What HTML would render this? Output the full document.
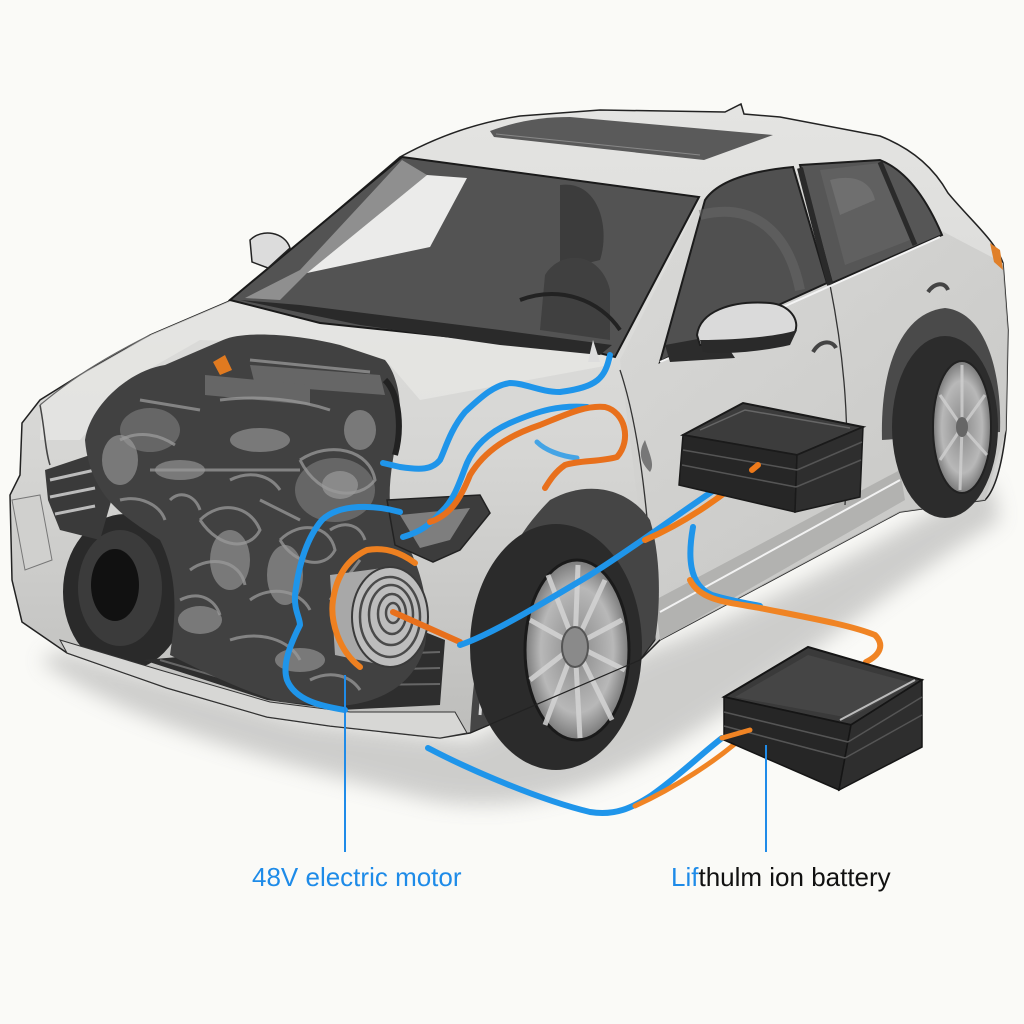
<!DOCTYPE html>
<html><head><meta charset="utf-8"><style>
html,body{margin:0;padding:0;background:#fafaf7;}
svg{display:block;}
text{font-family:"Liberation Sans",Arial,sans-serif;}
</style></head><body>
<svg width="1024" height="1024" viewBox="0 0 1024 1024" xmlns="http://www.w3.org/2000/svg">
<defs>
<linearGradient id="bodyG" x1="0" y1="0" x2="0" y2="1">
<stop offset="0" stop-color="#e4e4e2"/><stop offset="0.55" stop-color="#d6d6d4"/><stop offset="1" stop-color="#bdbdbb"/>
</linearGradient>
<linearGradient id="sideG" x1="0" y1="0" x2="1" y2="1">
<stop offset="0" stop-color="#d9d9d7"/><stop offset="1" stop-color="#c2c2c0"/>
</linearGradient>
<radialGradient id="rimG" cx="0.5" cy="0.5" r="0.5">
<stop offset="0" stop-color="#8a8a8a"/><stop offset="0.7" stop-color="#b8b8b8"/><stop offset="1" stop-color="#7a7a7a"/>
</radialGradient>
<filter id="blur8"><feGaussianBlur stdDeviation="10"/></filter>
</defs>

<rect width="1024" height="1024" fill="#fafaf7"/>

<!-- ground shadows -->
<path d="M40,660 C120,720 260,760 430,800 C520,815 600,790 680,740 C780,680 900,580 1000,520 L990,480 C880,540 760,610 650,650 L470,740 L300,720 L60,650 Z" fill="#8c8c8c" opacity="0.4" filter="url(#blur8)"/>

<!-- body -->
<path d="M400,157 C440,135 480,122 520,116 L600,110 L725,112 L741,104 L744,114 L780,117 L880,136 C915,150 935,170 948,193 C972,222 995,240 1003,263 L1008,330 L1006,430 C1002,465 995,490 985,500 L900,512 L660,640 L640,660 L470,733 L440,738 L330,726 L267,717 L167,688 L67,653 L22,622 L12,580 L10,495 L20,475 L22,423 L40,400 L80,375 L150,335 L232,300 Z" fill="url(#bodyG)" stroke="#222" stroke-width="1.5"/>
<path d="M620,360 L700,200 L830,165 L940,230 L1003,263 L1008,330 L1006,430 L985,500 L900,512 L660,640 L650,600 Z" fill="url(#sideG)" opacity="0.8"/>
<path d="M655,600 L900,470 L905,500 L660,640 Z" fill="#b2b2b0"/>
<path d="M660,612 L900,480" stroke="#f2f2f2" stroke-width="2" fill="none"/>
<path d="M232,300 L150,335 L80,375 L42,402 L40,440 L80,440 L130,380 L200,340 L340,345 L390,365 L420,400 L610,365 L615,357 L450,337 Z" fill="#e6e6e4" opacity="0.8"/>
<path d="M40,405 C45,430 45,450 50,465" stroke="#444" stroke-width="1.5" fill="none"/>
<path d="M150,335 C100,360 70,380 40,405" stroke="#666" stroke-width="1.2" fill="none"/>

<!-- roof & sunroof -->
<path d="M490,131 C520,120 545,117 570,117 L773,135 L704,160 L494,137 Z" fill="#5a5a5a"/>
<path d="M496,134 L700,155" stroke="#888" stroke-width="1" fill="none"/>

<!-- windshield -->
<path d="M402,157 L699,197 L615,357 L587,350 L453,337 L320,323 L230,300 Z" fill="#535353" stroke="#1a1a1a" stroke-width="2"/>
<path d="M402,160 L300,270 L245,298 L280,300 L307,273 L427,175 Z" fill="#a9a9a9" opacity="0.7"/>
<path d="M427,175 L467,178 L430,247 L307,273 Z" fill="#ebebea"/>
<path d="M560,185 C600,180 610,230 600,260 L560,270 Z" fill="#3c3c3c"/>
<path d="M545,275 C560,250 600,250 610,290 L610,340 L540,330 Z" fill="#404040"/>
<path d="M240,300 L360,325 L500,345 L600,355 L612,345 L500,330 L300,305 Z" fill="#2a2a2a"/>
<path d="M520,300 C560,285 600,300 620,330" stroke="#222" stroke-width="4" fill="none"/>
<path d="M593,340 L600,362 L588,362 Z" fill="#ddd"/>

<!-- left mirror -->
<path d="M250,240 C262,228 285,232 290,248 L268,268 L252,262 Z" fill="#dcdcdc" stroke="#222" stroke-width="1.5"/>

<!-- side windows -->
<path d="M705,200 C715,185 740,172 793,167 L827,283 L690,345 L660,362 Z" fill="#505050" stroke="#1c1c1c" stroke-width="2"/>
<path d="M800,165 L880,160 C905,170 925,195 942,235 L832,283 Z" fill="#565656" stroke="#1c1c1c" stroke-width="2"/>
<path d="M820,170 L880,163 L910,240 L845,265 Z" fill="#606060"/>
<path d="M880,162 L915,245" stroke="#2a2a2a" stroke-width="5"/>
<path d="M830,180 C850,175 870,178 875,200 L840,215 Z" fill="#7a7a7a" opacity="0.6"/>
<path d="M800,168 L830,285" stroke="#2a2a2a" stroke-width="6"/>
<path d="M700,215 C760,200 790,240 800,290" stroke="#6a6a6a" stroke-width="10" fill="none" opacity="0.5"/>
<path d="M620,370 C640,430 650,520 655,640" stroke="#333" stroke-width="1.3" fill="none"/>
<path d="M830,285 C845,360 850,430 845,505" stroke="#333" stroke-width="1.3" fill="none"/>
<path d="M660,362 L940,237" stroke="#f4f4f4" stroke-width="2" fill="none"/>
<path d="M813,352 C820,340 832,340 836,348" stroke="#444" stroke-width="4" fill="none"/>
<path d="M928,292 C935,282 945,282 948,290" stroke="#444" stroke-width="4" fill="none"/>
<!-- right mirror -->
<path d="M665,345 L720,335 L735,358 L670,362 Z" fill="#2c2c2c"/>
<path d="M697,335 C700,312 730,300 770,303 C790,305 800,320 795,332 C780,340 740,345 700,345 Z" fill="#dadada" stroke="#1e1e1e" stroke-width="2"/>
<path d="M700,340 C740,340 780,336 797,330 L790,345 C760,352 720,355 703,352 Z" fill="#2a2a2a"/>
<path d="M990,243 L1000,250 L1003,270 L994,262 Z" fill="#e0802a"/>
<path d="M645,440 C650,455 655,465 650,472 C640,462 638,452 645,440 Z" fill="#777"/>

<!-- rear wheel -->
<path d="M882,440 C880,360 905,312 945,308 C985,312 1002,370 1000,432 Z" fill="#4a4a4a"/>
<ellipse cx="945" cy="427" rx="53" ry="91" fill="#2c2c2c"/>
<ellipse cx="962" cy="427" rx="29" ry="66" fill="url(#rimG)" stroke="#222" stroke-width="2"/>
<g stroke="#d0d0d0" stroke-width="3" opacity="0.8">
<line x1="962" y1="427" x2="962" y2="365"/><line x1="962" y1="427" x2="985" y2="395"/><line x1="962" y1="427" x2="987" y2="455"/><line x1="962" y1="427" x2="960" y2="490"/><line x1="962" y1="427" x2="940" y2="460"/><line x1="962" y1="427" x2="940" y2="395"/>
</g>
<ellipse cx="962" cy="427" rx="6" ry="10" fill="#666"/>

<!-- front wheel arch -->
<path d="M470,733 C475,640 490,560 550,500 C590,478 630,490 650,520 C662,560 660,610 655,640 L640,660 Z" fill="#454545"/>
<path d="M480,715 C485,640 500,575 540,530" stroke="#d8d8d8" stroke-width="3" fill="none"/>
<ellipse cx="556" cy="647" rx="86" ry="123" fill="#2b2b2b"/>
<ellipse cx="577" cy="650" rx="52" ry="90" fill="url(#rimG)" stroke="#1a1a1a" stroke-width="3"/>
<g stroke="#d4d4d4" stroke-width="5" opacity="0.85">
<line x1="575" y1="645" x2="578" y2="565"/><line x1="575" y1="645" x2="605" y2="580"/><line x1="575" y1="645" x2="622" y2="620"/><line x1="575" y1="645" x2="625" y2="670"/><line x1="575" y1="645" x2="612" y2="720"/><line x1="575" y1="645" x2="580" y2="738"/><line x1="575" y1="645" x2="545" y2="725"/><line x1="575" y1="645" x2="530" y2="680"/><line x1="575" y1="645" x2="530" y2="620"/><line x1="575" y1="645" x2="548" y2="575"/>
</g>
<ellipse cx="575" cy="647" rx="13" ry="20" fill="#8a8a8a" stroke="#555" stroke-width="2"/>
<path d="M470,733 L640,660 L655,640" stroke="#222" stroke-width="1.2" fill="none"/>

<!-- left front tire -->
<ellipse cx="125" cy="592" rx="62" ry="78" fill="#2a2a2a"/>
<ellipse cx="120" cy="588" rx="42" ry="58" fill="#3b3b3b"/>
<ellipse cx="115" cy="585" rx="24" ry="36" fill="#111"/>
<path d="M45,470 L90,455 L120,470 L100,540 L60,530 L48,500 Z" fill="#3a3a3a"/>
<g stroke="#bbb" stroke-width="3"><line x1="50" y1="480" x2="95" y2="470"/><line x1="50" y1="497" x2="95" y2="488"/><line x1="55" y1="514" x2="95" y2="506"/></g>
<path d="M12,500 L40,495 L52,560 L25,570 Z" fill="#d0d0ce" stroke="#777" stroke-width="1"/>

<!-- lower grille -->
<path d="M143,660 L267,700 L340,710 L440,705 L445,640 L420,630 L350,640 L260,650 Z" fill="#2e2e2e"/>
<g stroke="#666" stroke-width="2"><line x1="150" y1="668" x2="265" y2="702"/><line x1="160" y1="660" x2="270" y2="692"/><line x1="360" y1="655" x2="440" y2="652"/><line x1="360" y1="670" x2="440" y2="668"/><line x1="360" y1="685" x2="440" y2="684"/></g>
<path d="M67,653 L167,688 L267,717 L330,726 L440,738 L467,733 L455,712 L350,712 L270,702 L160,670 L60,640 Z" fill="#d7d7d5" stroke="#333" stroke-width="1"/>

<!-- engine -->
<path d="M85,440 C90,405 130,370 165,365 L223,340 C245,330 300,335 340,345 L385,360 C398,375 403,405 398,430 C393,460 386,490 392,520 C418,555 432,600 425,645 C415,685 380,703 340,706 L280,702 C240,690 200,670 170,655 C175,620 180,580 160,540 C130,520 90,500 85,440 Z" fill="#414141"/>
<g fill="#666">
<path d="M250,365 L380,375 L385,395 L255,385 Z"/>
<path d="M205,375 L310,385 L310,405 L205,395 Z"/>
<ellipse cx="335" cy="490" rx="40" ry="32"/>
<ellipse cx="150" cy="430" rx="30" ry="22"/>
</g>
<g fill="#a8a8a8" opacity="0.55">
<ellipse cx="230" cy="560" rx="20" ry="30"/><ellipse cx="285" cy="575" rx="18" ry="30"/><ellipse cx="180" cy="470" rx="25" ry="10"/><ellipse cx="340" cy="485" rx="18" ry="14"/>
<ellipse cx="120" cy="460" rx="18" ry="25"/><ellipse cx="260" cy="440" rx="30" ry="12"/><ellipse cx="200" cy="620" rx="22" ry="14"/><ellipse cx="300" cy="660" rx="25" ry="12"/><ellipse cx="360" cy="430" rx="16" ry="20"/>
</g>
<g fill="none" stroke="#9a9a9a" stroke-width="3" opacity="0.75">
<path d="M250,360 L370,372"/><path d="M220,400 C260,395 300,400 330,410"/>
<path d="M120,440 C140,430 160,435 175,445"/><path d="M150,470 L300,470"/>
<path d="M200,520 C220,500 250,505 260,530 C250,550 220,550 200,520"/>
<path d="M280,540 C300,520 330,525 335,550 C325,570 295,565 280,540"/>
<path d="M190,570 C210,555 240,560 245,585"/><path d="M250,600 C270,585 300,590 310,610"/>
<path d="M300,460 C330,440 370,450 375,480 C360,500 320,500 300,460"/>
<path d="M120,500 C140,495 160,505 165,520"/><path d="M230,640 C260,630 290,640 300,660"/>
<path d="M310,680 C330,670 350,675 360,690"/>
<path d="M170,500 C180,490 195,495 200,510"/><path d="M230,480 C250,470 270,475 280,490"/>
<path d="M330,530 C345,520 360,525 365,540"/><path d="M180,600 C200,590 215,600 220,615"/>
<path d="M260,500 L300,520"/><path d="M360,560 L330,600"/><path d="M140,400 L200,410"/>
</g>
<path d="M213,362 L225,355 L232,370 L220,375 Z" fill="#e07a20"/>
<path d="M385,380 C400,395 402,430 395,455" stroke="#222" stroke-width="6" fill="none"/>

<!-- headlight right -->
<path d="M387,500 L480,495 L490,513 L460,550 L433,562 L395,545 Z" fill="#3c3c3c" stroke="#222" stroke-width="1.5"/>
<path d="M400,515 L470,508 L450,540 L420,548 Z" fill="#9a9a9a" opacity="0.7"/>

<!-- motor -->
<path d="M330,575 L390,567 L392,667 L335,655 Z" fill="#a8a8a8"/>
<ellipse cx="390" cy="617" rx="38" ry="50" fill="#bdbdbd" stroke="#3a3a3a" stroke-width="2"/>
<g fill="none" stroke="#4a4a4a" stroke-width="2.5">
<ellipse cx="390" cy="617" rx="30" ry="40"/><ellipse cx="391" cy="615" rx="22" ry="30"/><ellipse cx="392" cy="614" rx="14" ry="20"/><ellipse cx="393" cy="613" rx="7" ry="10"/>
</g>

<!-- cables -->
<g fill="none" stroke-linecap="round" stroke-linejoin="round">
<path d="M610,355 C605,378 598,387 560,392 C540,392 525,383 510,383 C495,385 483,395 465,412 C450,430 445,450 440,460 C432,470 420,470 400,467 L383,463" stroke="#1f95ea" stroke-width="6"/>
<path d="M587,407 C560,405 540,410 510,423 C490,432 475,445 467,463 C460,480 455,500 440,513 C430,525 420,532 403,537" stroke="#1f95ea" stroke-width="6"/>
<path d="M537,442 C545,450 560,456 577,458" stroke="#2b9be8" stroke-width="5" opacity="0.85"/>
<path d="M430,522 C450,515 460,500 470,475 C485,450 510,435 540,425 C565,415 585,405 605,407 C625,412 632,440 617,457 C600,462 580,460 565,465 C555,472 550,480 545,488" stroke="#e8701c" stroke-width="6"/>
<path d="M400,512 C375,505 340,503 322,520 C305,540 298,570 295,595 C294,610 300,618 300,625 C290,645 282,665 287,680 C295,700 320,706 345,710" stroke="#1f95ea" stroke-width="6"/>
<path d="M360,667 C338,650 330,620 333,600 C336,580 345,560 367,550 C385,547 400,552 415,563" stroke="#ee8020" stroke-width="6"/>
<path d="M393,612 L460,642" stroke="#e8701c" stroke-width="6"/>
<path d="M460,645 C490,635 540,605 590,575 C630,550 670,520 710,493 L752,465" stroke="#1f95ea" stroke-width="6"/>
<path d="M645,540 C680,525 720,500 758,465" stroke="#ee7a1a" stroke-width="6"/>
</g>

<!-- battery 1 -->
<path d="M683,435 L743,403 L863,427 L797,455 Z" fill="#3c3c3c" stroke="#1a1a1a" stroke-width="2"/>
<path d="M683,435 L797,455 L795,512 L679,485 Z" fill="#262626" stroke="#1a1a1a" stroke-width="1.5"/>
<path d="M797,455 L863,427 L860,497 L795,512 Z" fill="#2e2e2e" stroke="#1a1a1a" stroke-width="1.5"/>
<g stroke="#555" stroke-width="1.5"><line x1="683" y1="450" x2="797" y2="470"/><line x1="682" y1="465" x2="796" y2="487"/><line x1="797" y1="470" x2="862" y2="442"/><line x1="796" y1="487" x2="861" y2="460"/></g>
<path d="M700,430 L745,410 L850,428" stroke="#666" stroke-width="1.5" fill="none"/>

<g fill="none" stroke-linecap="round" stroke-linejoin="round">
<path d="M758,465 L752,470" stroke="#ee7a1a" stroke-width="6"/>
<path d="M693,527 C688,555 688,585 712,595 C728,600 745,603 760,606" stroke="#1f95ea" stroke-width="6"/>
<path d="M690,580 C700,600 725,602 760,608 C810,618 850,625 875,635 C885,645 880,655 866,662" stroke="#f08424" stroke-width="6"/>
<path d="M428,748 C470,770 540,800 590,812 C615,816 632,808 652,795 C680,775 700,755 722,738" stroke="#1f95ea" stroke-width="6"/>
<path d="M635,806 C670,790 720,760 750,730" stroke="#f08424" stroke-width="5"/>
</g>

<!-- battery 2 -->
<path d="M724,697 L808,647 L922,680 L851,725 Z" fill="#3a3a3a" stroke="#151515" stroke-width="2"/>
<path d="M735,697 L808,655 L912,683 L850,718 Z" fill="#454545"/>
<path d="M724,697 L851,725 L839,790 L724,740 Z" fill="#262626" stroke="#151515" stroke-width="1.5"/>
<path d="M851,725 L922,680 L922,747 L839,790 Z" fill="#2e2e2e" stroke="#151515" stroke-width="1.5"/>
<g stroke="#555" stroke-width="1.5"><line x1="724" y1="712" x2="848" y2="742"/><line x1="724" y1="726" x2="845" y2="758"/><line x1="848" y1="742" x2="922" y2="697"/><line x1="845" y1="758" x2="922" y2="715"/></g>
<path d="M840,720 L915,680" stroke="#bbb" stroke-width="2"/>
<path d="M750,730 L722,738" stroke="#f08424" stroke-width="5" stroke-linecap="round"/>

<!-- label lines -->
<line x1="345" y1="675" x2="345" y2="852" stroke="#1f8be8" stroke-width="2"/>
<line x1="766" y1="745" x2="766" y2="852" stroke="#1f8be8" stroke-width="2"/>

<!-- labels -->
<text x="252" y="886" font-size="26" fill="#1e8be8">48V electric motor</text>
<text x="671" y="886" font-size="26" fill="#111"><tspan fill="#1e8be8">Lif</tspan>thulm ion battery</text>
</svg>
</body></html>
